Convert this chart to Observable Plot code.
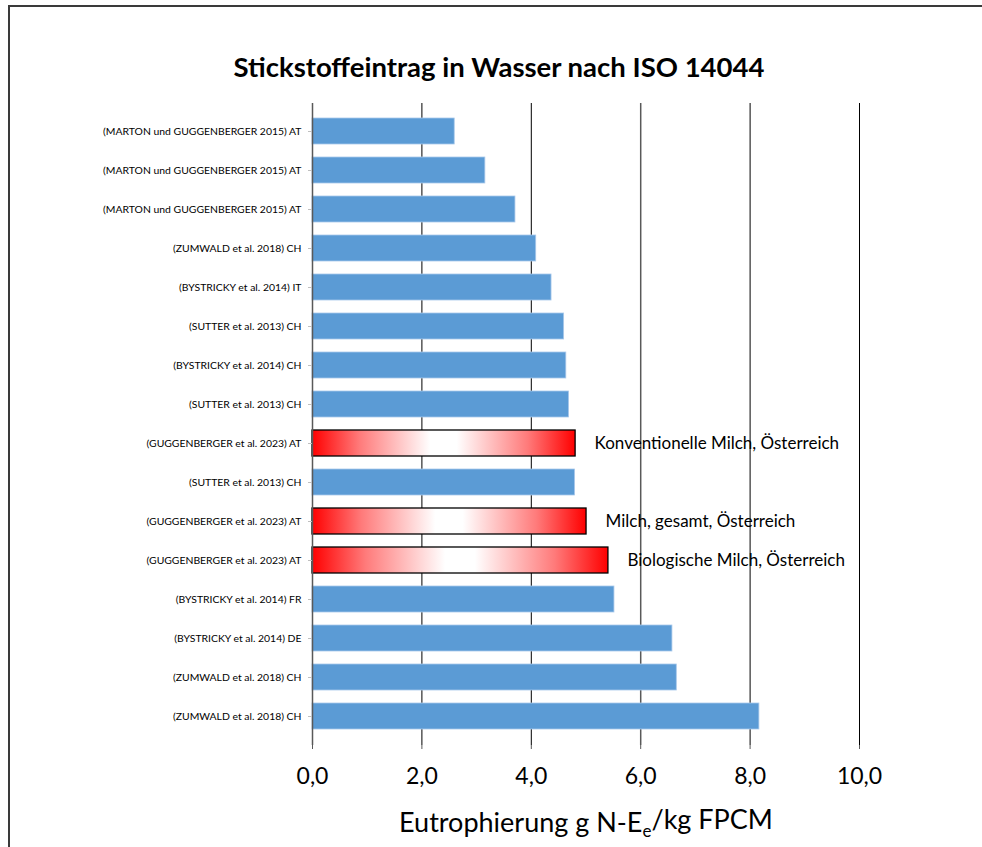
<!DOCTYPE html>
<html>
<head>
<meta charset="utf-8">
<script src="https://cdn.jsdelivr.net/npm/d3@7"></script>
<script src="https://cdn.jsdelivr.net/npm/@observablehq/plot@0.6"></script>
<style>
  html, body { margin: 0; padding: 0; background: #fff; overflow: hidden; width: 982px; height: 847px; }
  #frame { position: absolute; left: 8px; top: 5px; width: 1200px; height: 1200px; border: 2px solid #3a3a3a; box-sizing: border-box; }
  #chart { position: absolute; left: 0; top: 0; }
</style>
</head>
<body>
<div id="frame"></div>
<div id="chart"></div>
<script>
const labels = [
  "(MARTON und GUGGENBERGER 2015) AT",
  "(MARTON und GUGGENBERGER 2015) AT",
  "(MARTON und GUGGENBERGER 2015) AT",
  "(ZUMWALD et al. 2018) CH",
  "(BYSTRICKY et al. 2014) IT",
  "(SUTTER et al. 2013) CH",
  "(BYSTRICKY et al. 2014) CH",
  "(SUTTER et al. 2013) CH",
  "(GUGGENBERGER et al. 2023) AT",
  "(SUTTER et al. 2013) CH",
  "(GUGGENBERGER et al. 2023) AT",
  "(GUGGENBERGER et al. 2023) AT",
  "(BYSTRICKY et al. 2014) FR",
  "(BYSTRICKY et al. 2014) DE",
  "(ZUMWALD et al. 2018) CH",
  "(ZUMWALD et al. 2018) CH"
];
const values = [2.60, 3.16, 3.71, 4.09, 4.37, 4.60, 4.64, 4.69, 4.81, 4.80, 5.01, 5.41, 5.52, 6.58, 6.66, 8.17];
const highlighted = [0, 0, 0, 0, 0, 0, 0, 0, 1, 0, 1, 1, 0, 0, 0, 0];
const notes = ["", "", "", "", "", "", "", "", "Konventionelle Milch, Österreich", "", "Milch, gesamt, Österreich", "Biologische Milch, Österreich", "", "", "", ""];
const xTicks = [0, 2, 4, 6, 8, 10];
const gridLines = [2, 4, 6, 8, 10];
const title = "Stickstoffeintrag in Wasser nach ISO 14044";

const data = labels.map((label, i) => ({i, label, value: values[i], hl: highlighted[i] === 1, note: notes[i]}));
const fmt = d => d.toFixed(1).replace(".", ",");

const defsMark = () => {
  const defs = d3.create("svg:defs");
  const g = defs.append("linearGradient").attr("id", "redGrad").attr("x1", "0").attr("x2", "1").attr("y1", "0").attr("y2", "0");
  [[0, "#ff0000"], [0.18, "#ff7a7a"], [0.45, "#ffffff"], [0.55, "#ffffff"], [0.82, "#ff7a7a"], [1, "#ff0000"]]
    .forEach(([o, c]) => g.append("stop").attr("offset", o).attr("stop-color", c));
  return defs.node();
};

const chart = Plot.plot({
  width: 982,
  height: 847,
  marginLeft: 312,
  marginRight: 123,
  marginTop: 103,
  marginBottom: 102,
  style: {fontFamily: "Lato, sans-serif", background: "transparent", color: "#000"},
  x: {domain: [0, 10], ticks: xTicks},
  y: {domain: d3.range(labels.length), padding: 0.33},
  marks: [
    defsMark,
    Plot.ruleX(gridLines, {stroke: d => d === 6 ? "#595959" : "#000", strokeWidth: d => d === 6 ? 1.5 : 1}),
    Plot.barX(data.filter(d => !d.hl), {x: "value", y: "i", fill: "#5b9bd5", stroke: "#a9c8ea", strokeWidth: 0.8}),
    Plot.barX(data.filter(d => d.hl), {x: "value", y: "i", fill: "url(#redGrad)", stroke: "#000", strokeWidth: 1.3}),
    Plot.ruleX([0], {stroke: "#595959", strokeWidth: 1.5}),
    Plot.axisX({ticks: xTicks, tickFormat: fmt, tickSize: 4, tickPadding: 18, fontSize: 23, label: null, stroke: "#595959"}),
    Plot.axisY({tickFormat: i => labels[i], tickSize: 4, tickPadding: 7, fontSize: 10.4, label: null, stroke: "#bfbfbf"}),
    Plot.text(data.filter(d => d.note), {x: "value", y: "i", text: "note", dx: 19, textAnchor: "start", fontSize: 17, fill: "#000"}),
    Plot.text([title], {frameAnchor: "top", dy: -35, dx: -87, lineAnchor: "middle", fontSize: 27.5, fontWeight: "bold", fill: "#000"}),
    Plot.text(["Eutrophierung g N-E|e|/kg FPCM"], {frameAnchor: "bottom", dy: 78, lineAnchor: "middle", fontSize: 27, fill: "#000"})
  ]
});

// subscript "e" in axis title
d3.select(chart).selectAll("text").each(function() {
  const t = this.textContent;
  if (t.includes("Eutrophierung")) {
    const parts = t.split("|");
    const sel = d3.select(this);
    sel.text(null);
    sel.append("tspan").text(parts[0]);
    sel.append("tspan").attr("dy", "0.3em").attr("font-size", "17").text(parts[1]);
    sel.append("tspan").attr("dy", "-0.3em").text(parts[2]);
  }
});

document.getElementById("chart").appendChild(chart);
</script>
</body>
</html>
